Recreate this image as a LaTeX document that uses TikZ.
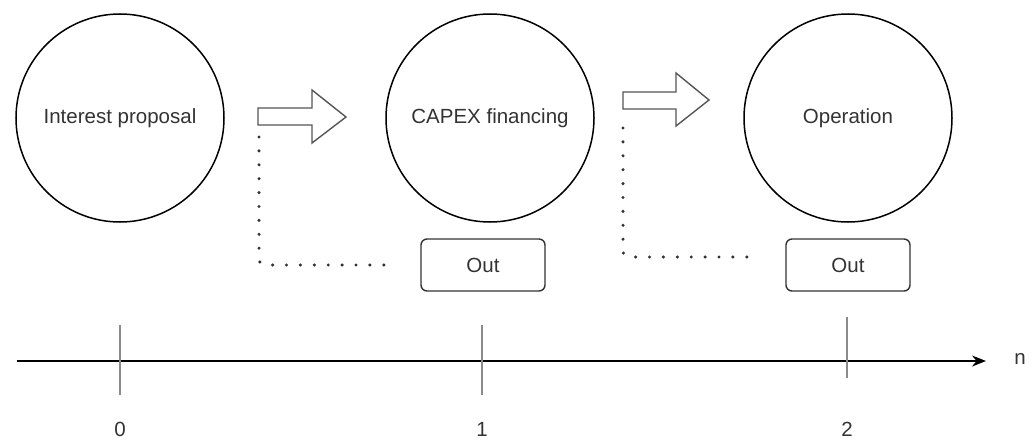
\documentclass[tikz,border=0pt]{standalone}
\usepackage{fontspec}
\setmainfont{Liberation Sans}
\usetikzlibrary{arrows.meta}
\definecolor{txtgray}{HTML}{333333}
\definecolor{linegray}{HTML}{555555}
\definecolor{tickgray}{HTML}{8A8A8A}
\begin{document}
\begin{tikzpicture}[x=1pt,y=-1pt,
    phase/.style={circle,draw=black,line width=1.5pt,minimum size=208pt,inner sep=0pt,text=txtgray,font=\fontsize{20.5}{24}\selectfont},
    outbox/.style={draw=txtgray,line width=1.4pt,rounded corners=6pt,minimum width=124pt,minimum height=52pt,text=txtgray,font=\fontsize{20.5}{24}\selectfont},
    blockarrow/.style={draw=linegray,line width=1.4pt,fill=white},
    dots/.style={draw=txtgray,line width=3.4pt,line cap=round,dash pattern=on 0pt off 13.9pt,rounded corners=6pt},
    tickmark/.style={draw=tickgray,line width=2.6pt},
    steplabel/.style={text=txtgray,font=\fontsize{20.5}{24}\selectfont}]
    \useasboundingbox (0,0) rectangle (1036,439);
    % Phases of the project
    \node[phase] (interest) at (120,118) {Interest proposal};
    \node[phase] (capex) at (490,118) {CAPEX financing};
    \node[phase] (operation) at (848,118) {Operation};
    % Outputs
    \node[outbox] (out1) at (483,265) {Out};
    \node[outbox] (out2) at (848,265) {Out};
    % Block arrows between phases
    \draw[blockarrow] (258,108) -- (312,108) -- (312,90) -- (346,117) -- (312,143) -- (312,125) -- (258,125) -- cycle;
    \draw[blockarrow] (623,92) -- (676,92) -- (676,73) -- (709,100) -- (676,126) -- (676,109) -- (623,109) -- cycle;
    % Dotted links towards the outputs
    \coordinate (dot1) at (259,137);
    \coordinate (dotend1) at (388,265);
    \draw[dots] (dot1) |- (dotend1);
    \coordinate (dot2) at (623,128);
    \coordinate (dotend2) at (752,257);
    \draw[dots] (dot2) |- (dotend2);
    % Time axis
    \coordinate (axstart) at (17,361);
    \coordinate (axend) at (986,361);
    \draw[line width=1.5pt,-{Stealth[length=14pt,width=11pt]}] (axstart) -- (axend);
    \node[steplabel] (n) at (1020,359) {n};
    % Steps on the axis
    \draw[tickmark] (120,325) -- (120,395);
    \draw[tickmark] (482,325) -- (482,395);
    \draw[tickmark] (847,317) -- (847,378);
    \node[steplabel] (step0) at (120,429) {0};
    \node[steplabel] (step1) at (482,429) {1};
    \node[steplabel] (step2) at (847,429) {2};
\end{tikzpicture}
\end{document}
